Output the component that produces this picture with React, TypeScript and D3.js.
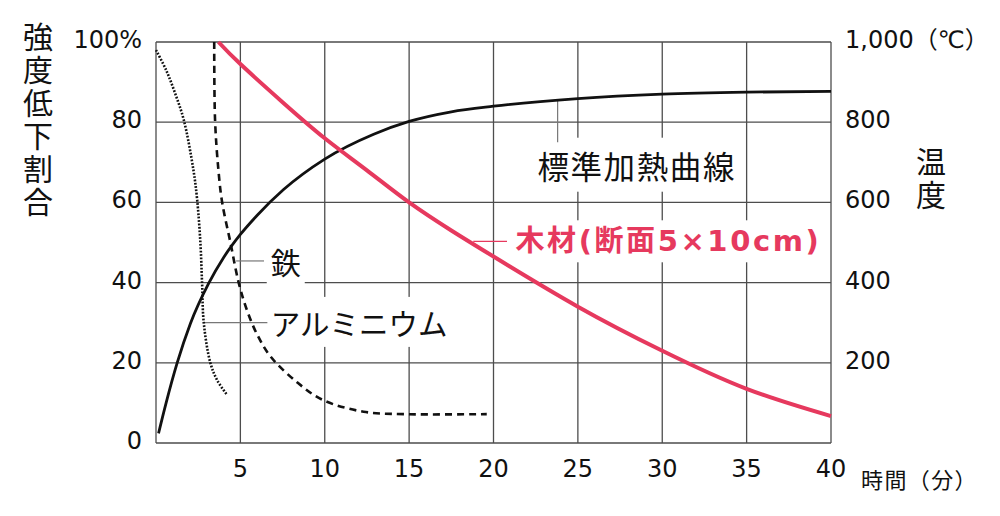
import * as d3 from "d3";
import { useRef, useEffect } from "react";

// axis ticks
const timeTicks = [5, 10, 15, 20, 25, 30, 35, 40];
const pctTicks = [0, 20, 40, 60, 80, 100];
const pctTickLabels = ["0", "20", "40", "60", "80", "100%"];
const tempTicks = [200, 400, 600, 800, 1000];
const tempTickLabels = ["200", "400", "600", "800", "1,000（℃）"];

// 標準加熱曲線 (°C)
const stdTime = [0.15, 0.6, 1.25, 2.04, 3.12, 4, 5, 6, 7.56, 10, 12.9, 15, 17.5, 20, 25, 30, 35, 40];
const stdTemp = [24, 100, 199, 298, 398, 462, 520, 568, 632, 708, 770, 802, 826, 840, 859, 870, 875, 877];

// 木材(断面5×10cm) (%)
const woodTime = [3.7, 5, 7.5, 10, 12.5, 15, 17.5, 20, 25, 30, 35, 40];
const woodPct = [100, 94.5, 85, 76, 68, 60, 53, 46.5, 34, 23, 13.5, 6.7];

// 鉄 (%)
const ironTime = [3.45, 3.5, 3.7, 3.92, 4.41, 4.9, 5.4, 6.0, 6.8, 8.4, 9.9, 12.3, 14.7, 19.6];
const ironPct = [100, 80.5, 68, 60, 50, 40, 33, 27, 21.5, 15, 10.7, 7.8, 7.2, 7.2];

// アルミニウム (%)
const aluTime = [0, 0.6, 1.15, 1.65, 2.22, 2.44, 2.63, 2.73, 2.83, 3.22, 3.62, 4.21];
const aluPct = [98, 93, 87, 80.5, 68, 60.6, 50, 40, 30, 20, 15.7, 12];

const RED = "#e6395e";
const GRID = "#4d4d4d";
const JP = "'Noto Sans CJK JP', sans-serif";
const NUM = "'DejaVu Sans', 'Noto Sans CJK JP', sans-serif";

export default function App() {
  const ref = useRef<SVGSVGElement | null>(null);
  const width = 1000;
  const height = 516;
  const marginLeft = 156, marginRight = 169, marginTop = 42, marginBottom = 73;

  useEffect(() => {
    document.body.style.margin = "0";
    if (!ref.current) return;
    const svg = d3.select(ref.current);
    svg.selectAll("*").remove();

    const x = d3.scaleLinear([0, 40], [marginLeft, width - marginRight]);
    const yPct = d3.scaleLinear([0, 100], [height - marginBottom, marginTop]);
    const yTemp = d3.scaleLinear([0, 1000], [height - marginBottom, marginTop]);

    // grid
    const grid = svg.append("g").attr("stroke", GRID).attr("stroke-width", 1.3);
    grid.selectAll("line.v")
      .data([0, ...timeTicks])
      .join("line")
      .attr("x1", d => x(d)).attr("x2", d => x(d))
      .attr("y1", yPct(0)).attr("y2", yPct(100));
    grid.selectAll("line.h")
      .data(pctTicks)
      .join("line")
      .attr("x1", x(0)).attr("x2", x(40))
      .attr("y1", d => yPct(d)).attr("y2", d => yPct(d));

    // labels inside plot with white boxes
    const labels = svg.append("g");
    const boxed = (tx: number, ty: number, text: string, opts: { color?: string, size?: number, weight?: string, family?: string, spacing?: number, padX?: number, padY?: number }) => {
      const g = labels.append("g");
      const t = g.append("text")
        .attr("x", tx).attr("y", ty)
        .attr("dominant-baseline", "central")
        .attr("fill", opts.color ?? "#111")
        .attr("font-size", opts.size ?? 30)
        .attr("font-weight", opts.weight ?? "normal")
        .attr("font-family", opts.family ?? JP)
        .attr("letter-spacing", opts.spacing ?? 0)
        .text(text);
      const bb = (t.node() as SVGTextElement).getBBox();
      const px = opts.padX ?? 4, py = opts.padY ?? 6;
      g.insert("rect", "text")
        .attr("x", bb.x - px).attr("y", bb.y + 2 - py)
        .attr("width", bb.width + 2 * px).attr("height", bb.height - 4 + 2 * py)
        .attr("fill", "white");
    };

    // leader lines
    const leaders = svg.append("g").attr("stroke-width", 1.2);
    leaders.append("line").attr("stroke", "#777")
      .attr("x1", x(4.75)).attr("x2", x(6.4)).attr("y1", yPct(45.4)).attr("y2", yPct(45.4));
    leaders.append("line").attr("stroke", "#777")
      .attr("x1", x(2.9)).attr("x2", x(6.6)).attr("y1", yPct(30)).attr("y2", yPct(30));
    leaders.append("line").attr("stroke", "#777")
      .attr("x1", x(23.8)).attr("x2", x(23.8)).attr("y1", yPct(85.5)).attr("y2", yPct(75));
    leaders.append("line").attr("stroke", RED)
      .attr("x1", x(18.8)).attr("x2", x(20.8)).attr("y1", yPct(50.3)).attr("y2", yPct(50.3));

    boxed(x(6.8), yPct(45.5), "鉄", { size: 30 });
    boxed(x(6.8), yPct(30.2), "アルミニウム", { size: 29.5, padX: 2 });
    boxed(x(22.6), yPct(69.4), "標準加熱曲線", { size: 31.5, spacing: 1.6 });
    boxed(x(21.3), yPct(50.3), "木材(断面5×10cm)", { size: 29, weight: "bold", color: RED, family: NUM, spacing: 2.6 });

    // curves
    const curves = svg.append("g").attr("fill", "none");
    const lineMono = d3.line<[number, number]>().curve(d3.curveMonotoneX);
    const lineSmooth = d3.line<[number, number]>().curve(d3.curveNatural);
    const lineCR = d3.line<[number, number]>().curve(d3.curveCatmullRom.alpha(0.5));

    curves.append("path")
      .attr("d", lineMono(stdTime.map((t, i) => [x(t), yTemp(stdTemp[i])])))
      .attr("stroke", "#111").attr("stroke-width", 2.8);
    curves.append("path")
      .attr("d", lineSmooth(woodTime.map((t, i) => [x(t), yPct(woodPct[i])])))
      .attr("stroke", RED).attr("stroke-width", 4);
    curves.append("path")
      .attr("d", lineCR(ironTime.map((t, i) => [x(t), yPct(ironPct[i])])))
      .attr("stroke", "#111").attr("stroke-width", 2.6).attr("stroke-dasharray", "7 5");
    curves.append("path")
      .attr("d", lineCR(aluTime.map((t, i) => [x(t), yPct(aluPct[i])])))
      .attr("stroke", "#111").attr("stroke-width", 2.6).attr("stroke-dasharray", "1.8 1.6");

    // left axis
    svg.append("g")
      .selectAll("text")
      .data(pctTicks)
      .join("text")
      .attr("x", marginLeft - 14)
      .attr("y", d => yPct(d) - 2)
      .attr("text-anchor", "end")
      .attr("dominant-baseline", "central")
      .attr("font-family", NUM)
      .attr("font-size", 24)
      .attr("fill", "#111")
      .text((_, i) => pctTickLabels[i]);

    // right axis
    svg.append("g")
      .selectAll("text")
      .data(tempTicks)
      .join("text")
      .attr("x", width - marginRight + 14)
      .attr("y", d => yTemp(d) - 2)
      .attr("dominant-baseline", "central")
      .attr("font-family", NUM)
      .attr("font-size", 24)
      .attr("fill", "#111")
      .text((_, i) => tempTickLabels[i]);

    // bottom axis
    svg.append("g")
      .selectAll("text")
      .data(timeTicks)
      .join("text")
      .attr("x", d => x(d))
      .attr("y", height - marginBottom + 26)
      .attr("text-anchor", "middle")
      .attr("dominant-baseline", "central")
      .attr("font-family", NUM)
      .attr("font-size", 24)
      .attr("fill", "#111")
      .text(d => d);

    svg.append("text")
      .attr("x", 861).attr("y", 478)
      .attr("dominant-baseline", "central")
      .attr("font-family", JP)
      .attr("font-size", 22)
      .attr("letter-spacing", 1.4)
      .attr("fill", "#111")
      .text("時間（分）");

    // vertical axis titles
    const vtitle = (cx: number, top: number, text: string) => {
      svg.append("text")
        .attr("x", cx)
        .attr("y", top)
        .attr("writing-mode", "vertical-rl")
        .attr("font-family", JP)
        .attr("font-size", 30)
        .attr("letter-spacing", 3)
        .attr("fill", "#111")
        .text(text);
    };
    vtitle(38, 22, "強度低下割合");
    vtitle(931, 147, "温度");
  }, []);

  return <svg ref={ref} width={width} height={height} style={{ display: "block", background: "white" }} />;
}
